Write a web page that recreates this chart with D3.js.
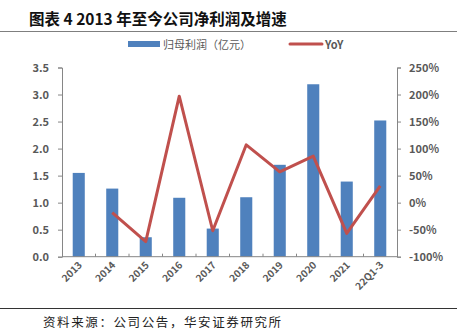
<!DOCTYPE html>
<html><head><meta charset="utf-8">
<script src="https://cdn.jsdelivr.net/npm/d3@7"></script>
<style>body{margin:0;background:#fff;}svg{display:block;}</style>
</head><body>
<script>
const categories = ["2013","2014","2015","2016","2017","2018","2019","2020","2021","22Q1-3"];
const profit = [1.55,1.26,0.36,1.09,0.52,1.10,1.70,3.19,1.39,2.52];
const yoy = [null,-18.5,-72,197,-52,107,57,86,-57,31];
const leftTicks = [0,0.5,1.0,1.5,2.0,2.5,3.0,3.5];
const rightTicks = [-100,-50,0,50,100,150,200,250];

const W=457,H=334;
const svg=d3.select("body").append("svg").attr("width",W).attr("height",H);
const font="'Microsoft YaHei','Noto Sans CJK SC',sans-serif";
const L=62,R=397,T=67.5,B=256.7;
const x=d3.scaleBand().domain(categories).range([L,R]).paddingInner(0.64).paddingOuter(0.32);
const xb=d3.scaleBand().domain(categories).range([L,R]);
const yL=d3.scaleLinear().domain([0,3.5]).range([B,T]);
const yR=d3.scaleLinear().domain([-100,250]).range([B,T]);

// title
svg.append("text").attr("x",29).attr("y",24.5).attr("font-family",font).attr("font-weight","bold")
  .attr("font-size",15.5).attr("fill","#111").text("图表 4 2013 年至今公司净利润及增速");
svg.append("line").attr("x1",0).attr("x2",W).attr("y1",31.5).attr("y2",31.5).attr("stroke","#7f7f7f").attr("stroke-width",1.2);

// legend
svg.append("rect").attr("x",128).attr("y",41).attr("width",32).attr("height",6).attr("fill","#4F81BD");
svg.append("text").attr("x",163).attr("y",48.5).attr("font-family",font).attr("font-size",11).attr("fill","#595959").text("归母利润（亿元）");
svg.append("line").attr("x1",290).attr("x2",322).attr("y1",44).attr("y2",44).attr("stroke","#C0504D").attr("stroke-width",3).attr("stroke-linecap","round");
svg.append("text").attr("x",325).attr("y",48.5).attr("font-family",font).attr("font-size",11).attr("font-weight","bold").attr("fill","#595959").text("YoY");

// bars
svg.append("g").selectAll("rect").data(categories).join("rect")
  .attr("x",d=>x(d)).attr("width",x.bandwidth())
  .attr("y",(d,i)=>yL(profit[i])).attr("height",(d,i)=>B-yL(profit[i]))
  .attr("fill","#4F81BD");

// axes
const axColor="#868686";
const gl=svg.append("g").attr("transform",`translate(${L},0)`)
  .call(d3.axisLeft(yL).tickValues(leftTicks).tickFormat(d3.format(".1f")).tickSize(4).tickPadding(6));
const gr=svg.append("g").attr("transform",`translate(${R},0)`)
  .call(d3.axisRight(yR).tickValues(rightTicks).tickFormat(d=>d+"%").tickSize(4).tickPadding(6));
[gl,gr].forEach(g=>{
  g.select(".domain").attr("stroke",axColor);
  g.selectAll(".tick line").attr("stroke",axColor);
  g.selectAll("text").attr("font-family",font).attr("font-size",11).attr("font-weight","bold").attr("fill","#595959");
});
gl.selectAll("text").attr("dx",-3);
gr.selectAll("text").attr("dx",2);

// x axis
svg.append("line").attr("x1",L).attr("x2",R).attr("y1",B).attr("y2",B).attr("stroke",axColor);
svg.append("g").selectAll("line").data(categories.slice(1)).join("line")
  .attr("x1",d=>xb(d)).attr("x2",d=>xb(d)).attr("y1",B).attr("y2",B-3).attr("stroke",axColor);
svg.append("g").selectAll("text").data(categories).join("text")
  .attr("transform",d=>`translate(${xb(d)+xb.bandwidth()/2+4},${B+9}) rotate(-45)`)
  .attr("text-anchor","end").attr("font-family",font).attr("font-size",10).attr("font-weight","bold")
  .attr("fill","#595959").text(d=>d);

// line
const line=d3.line().defined(d=>d.v!=null).x(d=>x(d.c)+x.bandwidth()/2).y(d=>yR(d.v));
svg.append("path").datum(categories.map((c,i)=>({c,v:yoy[i]})))
  .attr("d",line).attr("fill","none").attr("stroke","#C0504D").attr("stroke-width",3).attr("stroke-linejoin","round");

// footer
svg.append("line").attr("x1",0).attr("x2",W).attr("y1",308.5).attr("y2",308.5).attr("stroke","#333").attr("stroke-width",1);
svg.append("text").attr("x",43).attr("y",327).attr("font-family",font).attr("font-size",12.5).attr("letter-spacing",1.6).attr("fill","#222").text("资料来源：公司公告，华安证券研究所");
</script>
</body></html>
